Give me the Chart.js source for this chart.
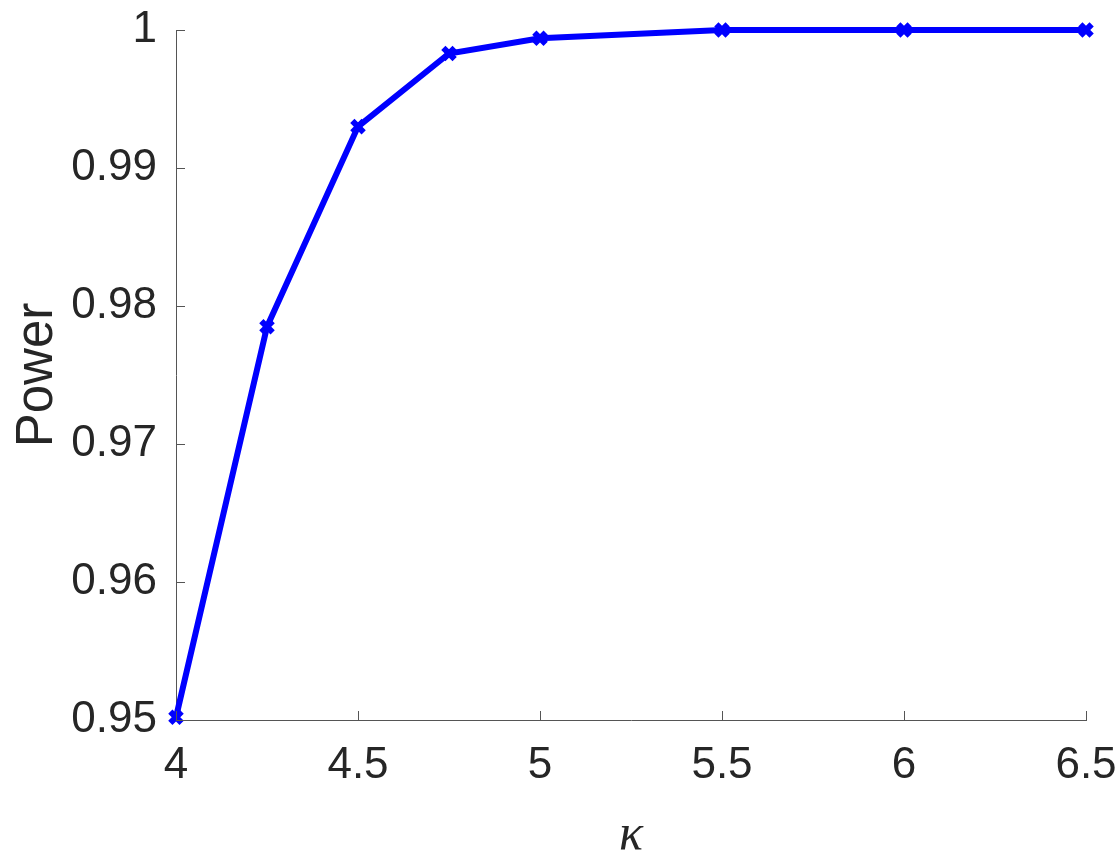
<!DOCTYPE html>
<html lang="en">
  <head>
    <meta charset="UTF-8" />
    <title>Power vs kappa</title>
    <style>
      html, body { margin: 0; padding: 0; background: #fff; }
      #wrap { width: 1119px; height: 861px; }
    </style>
  </head>
  <body>
    <div id="wrap"><canvas id="chart" width="1119" height="861"></canvas></div>

    <script src="https://cdn.jsdelivr.net/npm/chart.js@4.2.1/dist/chart.umd.min.js"></script>
    <script>
      // data
      const kappa = [4, 4.25, 4.5, 4.75, 5, 5.5, 6, 6.5];
      const power = [0.9502, 0.9785, 0.993, 0.9983, 0.9994, 1, 1, 1];
      const xTicks = [4, 4.5, 5, 5.5, 6, 6.5];
      const yTicks = [0.95, 0.96, 0.97, 0.98, 0.99, 1];

      const axisColor = "#555555";
      const textColor = "#262626";

      // MATLAB style inward ticks, bottom and left only
      const inwardTicks = {
        id: "inwardTicks",
        afterDraw(chart) {
          const ctx = chart.ctx;
          const x = chart.scales.x;
          const y = chart.scales.y;
          const len = 9;
          ctx.save();
          ctx.strokeStyle = axisColor;
          ctx.lineWidth = 1;
          ctx.beginPath();
          xTicks.forEach((v) => {
            const px = Math.round(x.getPixelForValue(v)) + 0.5;
            ctx.moveTo(px, y.bottom);
            ctx.lineTo(px, y.bottom - len);
          });
          yTicks.forEach((v) => {
            const py = Math.round(y.getPixelForValue(v)) + 0.5;
            ctx.moveTo(x.left, py);
            ctx.lineTo(x.left + len, py);
          });
          ctx.stroke();
          ctx.restore();
        },
      };

      new Chart(document.getElementById("chart"), {
        type: "line",
        data: {
          datasets: [
            {
              data: kappa.map((k, i) => ({ x: k, y: power[i] })),
              borderColor: "#0000ff",
              backgroundColor: "#0000ff",
              borderWidth: 6,
              pointStyle: "crossRot",
              pointRadius: 8,
              pointBorderWidth: 6,
              pointBorderColor: "#0000ff",
              tension: 0,
              clip: false,
            },
          ],
        },
        options: {
          responsive: false,
          animation: false,
          layout: { padding: { top: 30, right: 33, left: 0, bottom: 0 } },
          plugins: { legend: { display: false }, tooltip: { enabled: false } },
          scales: {
            x: {
              type: "linear",
              min: 4,
              max: 6.5,
              afterBuildTicks: (s) => { s.ticks = xTicks.map((v) => ({ value: v })); },
              afterFit: (s) => {
                s.height = 141;
                s.paddingLeft = 0;
                s.paddingRight = 0;
              },
              grid: { display: false },
              border: { display: true, color: axisColor, width: 1 },
              ticks: {
                padding: 11,
                color: textColor,
                font: { family: "'Liberation Sans', Arial, sans-serif", size: 44 },
                maxRotation: 0,
                callback: (v) => String(v),
              },
              title: {
                display: true,
                text: "κ",
                color: textColor,
                padding: { top: 0, bottom: 0 },
                font: { family: "'Liberation Serif', 'DejaVu Serif', serif", size: 50, style: "italic", lineHeight: 1 },
              },
            },
            y: {
              min: 0.95,
              max: 1,
              afterBuildTicks: (s) => { s.ticks = yTicks.map((v) => ({ value: v })); },
              afterFit: (s) => {
                s.width = 176;
                s.paddingTop = 0;
                s.paddingBottom = 0;
              },
              grid: { display: false },
              border: { display: true, color: axisColor, width: 1 },
              ticks: {
                padding: 11,
                color: textColor,
                font: { family: "'Liberation Sans', Arial, sans-serif", size: 44 },
                callback: (v) => String(Math.round(v * 100) / 100),
              },
              title: {
                display: true,
                text: "Power",
                color: textColor,
                padding: { top: 12, bottom: 0 },
                font: { family: "'Liberation Sans', Arial, sans-serif", size: 51, lineHeight: 1 },
              },
            },
          },
        },
        plugins: [inwardTicks],
      });
    </script>
  </body>
</html>
